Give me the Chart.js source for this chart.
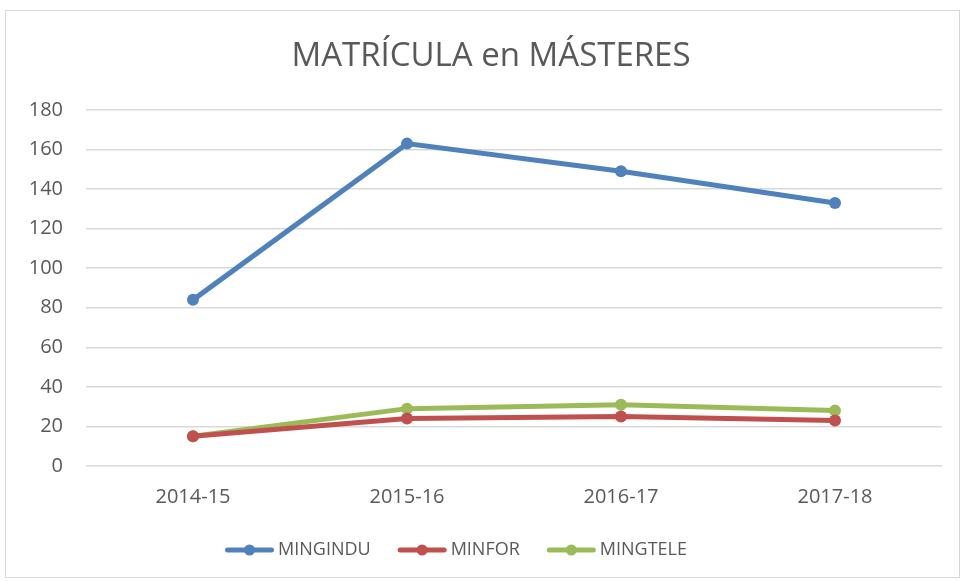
<!DOCTYPE html>
<html>
<head>
<meta charset="utf-8">
<script src="https://cdn.jsdelivr.net/npm/chart.js@4"></script>
<style>
  html, body { margin: 0; padding: 0; background: #fff; }
  #wrap { position: relative; width: 963px; height: 581px; }
</style>
</head>
<body>
<div id="wrap"><canvas id="canvas" width="963" height="581"></canvas></div>
<script>
const years = ['2014-15', '2015-16', '2016-17', '2017-18'];
const mingindu = [84, 163, 149, 133];
const minfor = [15, 24, 25, 23];
const mingtele = [15, 29, 31, 28];
const seriesNames = ['MINGINDU', 'MINFOR', 'MINGTELE'];
const seriesColors = ['#4f81bd', '#c0504d', '#9bbb59'];

const FONT = "'Open Sans', 'Liberation Sans', sans-serif";
const textColor = '#595959';

const frame = {
    id: 'frame',
    beforeDraw(chart) {
        const ctx = chart.ctx;
        ctx.save();
        ctx.fillStyle = '#fff';
        ctx.fillRect(0, 0, chart.width, chart.height);
        ctx.strokeStyle = '#d9d9d9';
        ctx.lineWidth = 1;
        ctx.strokeRect(5.5, 10.5, 954, 567);
        ctx.restore();
    },
    // title sits centred on the whole frame, not the plot
    afterLayout(chart) {
        const t = chart.titleBlock;
        if (t) {
            t.left += 20;
            t.right += 20;
        }
    }
};

// legend drawn by hand: line with dot, then the name
const lineLegend = {
    id: 'lineLegend',
    afterDraw(chart) {
        const ctx = chart.ctx;
        const iconW = 49, gapText = 4, gapItem = 27, y = 550, centerX = 456;
        ctx.save();
        ctx.font = '18px ' + FONT;
        ctx.textBaseline = 'middle';
        const sets = chart.data.datasets;
        let total = 0;
        sets.forEach((ds, i) => {
            total += iconW + gapText + ctx.measureText(ds.label).width;
            if (i < sets.length - 1) total += gapItem;
        });
        let x = centerX - total / 2;
        sets.forEach((ds) => {
            ctx.strokeStyle = ds.borderColor;
            ctx.fillStyle = ds.borderColor;
            ctx.lineWidth = 5;
            ctx.lineCap = 'round';
            ctx.beginPath();
            ctx.moveTo(x + 2.5, y);
            ctx.lineTo(x + iconW - 2.5, y);
            ctx.stroke();
            ctx.beginPath();
            ctx.arc(x + iconW / 2, y, 5.5, 0, Math.PI * 2);
            ctx.fill();
            x += iconW + gapText;
            ctx.fillStyle = textColor;
            ctx.fillText(ds.label, x, y);
            x += ctx.measureText(ds.label).width + gapItem;
        });
        ctx.restore();
    }
};

function makeSet(i, values) {
    return {
        label: seriesNames[i],
        data: values,
        borderColor: seriesColors[i],
        backgroundColor: seriesColors[i],
        borderWidth: 5,
        pointRadius: 6,
        pointHoverRadius: 6,
        pointBorderWidth: 0,
        fill: false,
        tension: 0
    };
}

const ctx = document.getElementById('canvas').getContext('2d');
const myChart = new Chart(ctx, {
    type: 'line',
    data: {
        labels: years,
        datasets: [
            makeSet(0, mingindu),
            makeSet(1, minfor),
            makeSet(2, mingtele)
        ]
    },
    options: {
        responsive: false,
        animation: false,
        layout: { padding: { left: 0, right: 21, top: 0, bottom: 55 } },
        plugins: {
            tooltip: { enabled: false },
            legend: { display: false },
            title: {
                display: true,
                text: 'MATRÍCULA en MÁSTERES',
                color: textColor,
                font: { family: FONT, size: 33, weight: 'normal' },
                padding: { top: 37, bottom: 33.4 }
            }
        },
        scales: {
            x: {
                offset: true,
                grid: { display: false },
                border: { display: false },
                ticks: {
                    color: textColor,
                    font: { family: FONT, size: 20 },
                    padding: 11
                },
                afterFit(scale) { scale.height = 60; }
            },
            y: {
                min: 0,
                max: 180,
                grid: { color: '#d9d9d9', lineWidth: 1.5, drawTicks: false },
                border: { display: false },
                ticks: {
                    stepSize: 20,
                    color: textColor,
                    font: { family: FONT, size: 20 },
                    padding: 23
                },
                afterFit(scale) { scale.width = 86; }
            }
        }
    },
    plugins: [frame, lineLegend]
});
</script>
</body>
</html>
